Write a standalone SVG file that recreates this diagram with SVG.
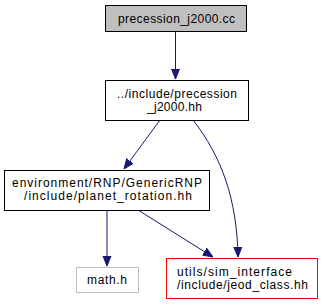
<svg xmlns="http://www.w3.org/2000/svg" width="323" height="305" viewBox="0 0 323 305">
  <style>
    .node rect { fill: #ffffff; stroke: #000000; stroke-width: 1; }
    .node text { font-family: "Liberation Sans", Arial, Helvetica, sans-serif; font-size: 12px; fill: #000000; }
    .edge { fill: none; stroke: #191970; stroke-width: 1; }
  </style>
  <defs>
    <marker id="arrow" viewBox="0 0 10 10" refX="10" refY="5" markerWidth="10" markerHeight="10" markerUnits="userSpaceOnUse" orient="auto">
      <path d="M0,1 L10,5 L0,9 Z" fill="#191970" stroke="#191970"/>
    </marker>
  </defs>

  <g id="connectors">
    <path class="edge" d="M175.5,31 L175.5,79" marker-end="url(#arrow)"/>
    <path class="edge" d="M160,120 L124,169" marker-end="url(#arrow)"/>
    <path class="edge" d="M193,120 C222,157 237,200 238,257" marker-end="url(#arrow)"/>
    <path class="edge" d="M107,210 L107,266" marker-end="url(#arrow)"/>
    <path class="edge" d="M138,210 L213,257" marker-end="url(#arrow)"/>
  </g>

  <g id="node-precession-cc" class="node">
    <rect x="105.5" y="5.5" width="141" height="26" style="fill:#bfbfbf"/>
    <text x="118" y="22.5" textLength="117" lengthAdjust="spacing">precession_j2000.cc</text>
  </g>

  <g id="node-precession-hh" class="node">
    <rect x="105.5" y="80.5" width="143" height="40"/>
    <text x="117" y="97.5" textLength="120" lengthAdjust="spacing">../include/precession</text>
    <text x="147" y="111" textLength="55" lengthAdjust="spacing">_j2000.hh</text>
  </g>

  <g id="node-planet-rotation" class="node">
    <rect x="4.5" y="170.5" width="205" height="40"/>
    <text x="12" y="186.5" textLength="190" lengthAdjust="spacing">environment/RNP/GenericRNP</text>
    <text x="24" y="200" textLength="168" lengthAdjust="spacing">/include/planet_rotation.hh</text>
  </g>

  <g id="node-math" class="node">
    <rect x="76.5" y="267.5" width="62" height="25" style="stroke:#bfbfbf"/>
    <text x="87" y="284" textLength="40" lengthAdjust="spacing">math.h</text>
  </g>

  <g id="node-jeod-class" class="node">
    <rect x="166.5" y="258.5" width="151" height="40" style="stroke:#ff0000"/>
    <text x="177" y="275.5" textLength="115" lengthAdjust="spacing">utils/sim_interface</text>
    <text x="177" y="289" textLength="131" lengthAdjust="spacing">/include/jeod_class.hh</text>
  </g>
</svg>
